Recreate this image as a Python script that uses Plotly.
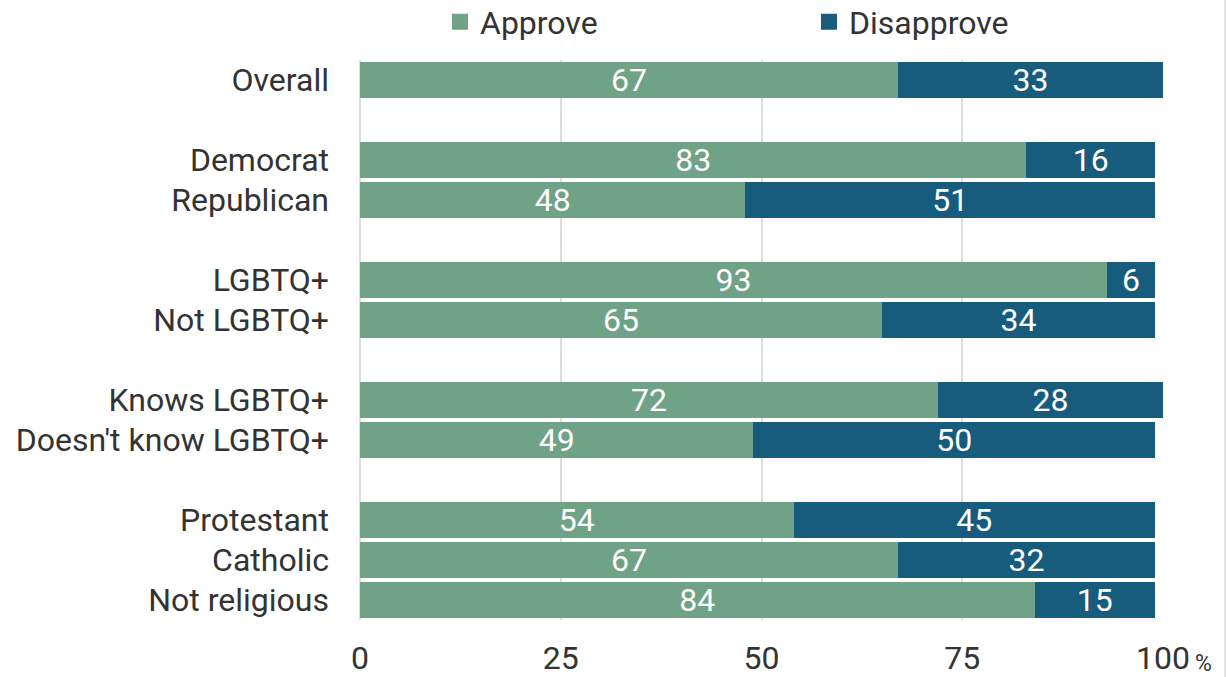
import plotly.graph_objects as go

categories = ["Overall", "Democrat", "Republican", "LGBTQ+", "Not LGBTQ+",
              "Knows LGBTQ+", "Doesn't know LGBTQ+", "Protestant", "Catholic", "Not religious"]
approve = [67, 83, 48, 93, 65, 72, 49, 54, 67, 84]
disapprove = [33, 16, 51, 6, 34, 28, 50, 45, 32, 15]
# display order including blank spacer rows
row_order = ["Overall", " ", "Democrat", "Republican", "  ", "LGBTQ+", "Not LGBTQ+", "   ",
             "Knows LGBTQ+", "Doesn't know LGBTQ+", "    ", "Protestant", "Catholic", "Not religious"]
tick_vals = [0, 25, 50, 75, 100]
tick_text = ["0", "25", "50", "75", "100"]

GREEN = "#6FA287"
BLUE = "#175C7C"
FONT = "Roboto"
TXT = "#333333"
FS = 32

fig = go.Figure()
fig.add_trace(go.Bar(y=categories, x=approve, orientation="h", name="Approve", showlegend=False,
                     marker=dict(color=GREEN, line=dict(width=0)),
                     text=approve, textposition="inside", insidetextanchor="middle", textangle=0,
                     textfont=dict(color="white", size=FS, family=FONT)))
fig.add_trace(go.Bar(y=categories, x=disapprove, orientation="h", name="Disapprove", showlegend=False,
                     marker=dict(color=BLUE, line=dict(width=0)),
                     text=disapprove, textposition="inside", insidetextanchor="middle", textangle=0,
                     textfont=dict(color="white", size=FS, family=FONT)))
# legend-only entries with larger square swatches
for nm, col in (("Approve", GREEN), ("Disapprove", BLUE)):
    fig.add_trace(go.Scatter(x=[None], y=[None], mode="markers", name=nm,
                             marker=dict(symbol="square", size=16, color=col)))

fig.update_layout(
    barmode="stack", bargap=0.08,
    width=1227, height=677,
    margin=dict(l=360, r=64, t=60, b=57, autoexpand=False),
    paper_bgcolor="white", plot_bgcolor="white",
    font=dict(family=FONT, color=TXT, size=FS),
    legend=dict(orientation="h", x=(440 - 360) / 803, xanchor="left",
                y=1 + (60 - 22) / 560, yanchor="middle",
                entrywidth=324, entrywidthmode="pixels",
                font=dict(size=FS, family=FONT, color=TXT), traceorder="normal"),
    xaxis=dict(range=[0, 100], tickvals=tick_vals, ticktext=tick_text, showgrid=True,
               gridcolor="#DDDDDD", gridwidth=2, zeroline=True, zerolinecolor="#DDDDDD",
               zerolinewidth=2, showline=False, ticks="", ticklabelstandoff=16,
               automargin=False,
               tickfont=dict(size=FS, family=FONT, color=TXT), fixedrange=True),
    yaxis=dict(categoryorder="array", categoryarray=row_order, autorange="reversed",
               showgrid=False, ticks="", ticklabelstandoff=30, automargin=False,
               tickfont=dict(size=FS, family=FONT, color=TXT)),
    uniformtext=dict(minsize=FS, mode="show"),
)

fig.add_annotation(x=100, y=0, xref="x", yref="paper", text="%", showarrow=False,
                   xanchor="left", yanchor="top", xshift=30, yshift=-28,
                   font=dict(size=23, family=FONT, color=TXT))

fig.add_shape(type="line", xref="paper", yref="paper",
              x0=(1225 - 360) / 803, x1=(1225 - 360) / 803, y0=-57 / 560, y1=1 + 60 / 560,
              line=dict(color="#E3E3E3", width=2))

fig.write_html("out.html", config={"displayModeBar": False},
               post_script="document.body.style.margin='0';document.body.style.overflow='hidden';")
